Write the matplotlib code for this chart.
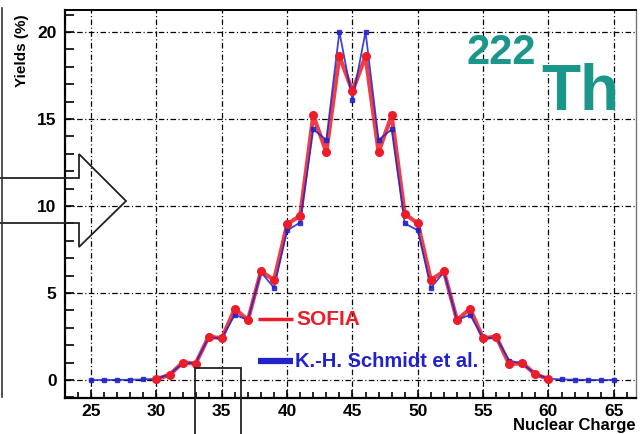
import matplotlib
matplotlib.use("Agg")
import matplotlib.pyplot as plt
from matplotlib.patches import Polygon
from matplotlib.lines import Line2D
import numpy as np

plt.rcParams['font.family'] = ['Liberation Sans', 'DejaVu Sans']
plt.rcParams['font.weight'] = 'bold'
plt.rcParams['lines.scale_dashes'] = False

# Charge yields for 222Th fission
z_sofia = list(range(30, 61))
y_sofia = [0.05, 0.3, 1.0, 0.95, 2.5, 2.4, 4.1, 3.45, 6.25, 5.75,
           8.95, 9.45, 15.2, 13.1, 18.6, 16.6, 18.6, 13.1, 15.2, 9.55,
           9.0, 5.75, 6.25, 3.45, 4.1, 2.4, 2.5, 0.9, 0.98, 0.33, 0.06]

z_schmidt = list(range(25, 66))
y_schmidt = [0.003, 0.005, 0.01, 0.02, 0.04,
             0.08, 0.33, 0.95, 1.0, 2.45, 2.4, 3.75, 3.45, 6.2, 5.3,
             8.6, 9.05, 14.4, 13.8, 20.0, 16.1, 20.0, 13.8, 14.4, 9.0,
             8.6, 5.3, 6.2, 3.45, 3.75, 2.4, 2.45, 1.12, 0.95, 0.35, 0.08,
             0.04, 0.02, 0.01, 0.005, 0.003]

red = '#ec1c28'
blue = '#2222cc'
teal = '#1a968a'

W, H = 641, 434
fig = plt.figure(figsize=(W / 100, H / 100), dpi=100)
ax = fig.add_axes([65 / W, 1 - 398 / H, 571 / W, 388 / H])

ax.plot(z_sofia, y_sofia, color=red, lw=3.0, alpha=0.85, zorder=3)
ax.plot(z_schmidt, y_schmidt, color=blue, lw=1.3, alpha=0.85,
        marker='s', markersize=2.2, zorder=4)
ax.plot(z_sofia, y_sofia, color=red, lw=0, marker='o', markersize=5.5,
        zorder=5)

ax.set_xlim(23.0, 66.7)
ax.set_ylim(-1.03, 21.26)
ax.set_xticks(np.arange(25, 66, 5))
ax.set_xticks(np.arange(24, 67, 1), minor=True)
ax.set_yticks(np.arange(0, 21, 5))
ax.set_yticks(np.arange(-1, 22, 1), minor=True)

ax.grid(True, which='major', color='black', lw=0.9,
        linestyle=(0, (4, 1.8, 0.8, 1.8)))
ax.tick_params(which='both', direction='in', top=False, right=False,
               labelsize=12.5, width=1.2)
ax.tick_params(axis='x', which='major', length=6, pad=4)
ax.tick_params(axis='x', which='minor', length=4)
ax.tick_params(axis='y', which='major', length=6.5, pad=6)
ax.tick_params(axis='y', which='minor', length=6.5)
for lab in ax.get_xticklabels() + ax.get_yticklabels():
    lab.set_fontweight('bold')

for side in ['left', 'bottom']:
    ax.spines[side].set_linewidth(1.6)
ax.spines['top'].set_linewidth(1.4)
ax.spines['right'].set_linewidth(1.0)
ax.spines['right'].set_color('#777777')

# legend drawn by hand inside the frame
ax.plot([37.8, 40.45], [3.5, 3.5], color=red, lw=2.5, solid_capstyle='butt')
ax.text(40.7, 3.5, 'SOFIA', color=red, fontsize=15, fontweight='bold',
        va='center', ha='left')
ax.plot([37.8, 40.45], [1.08, 1.08], color=blue, lw=4.5, solid_capstyle='butt')
ax.text(40.6, 1.08, 'K.-H. Schmidt et al.', color=blue, fontsize=14.5,
        fontweight='bold', va='center', ha='left')

# nucleus label
fig.text(467 / W, 1 - 64 / H, '222', color=teal, fontsize=30,
         fontweight='bold', ha='left', va='baseline')
fig.text(541 / W, 1 - 110 / H, 'Th', color=teal, fontsize=46,
         fontweight='bold', ha='left', va='baseline')

fig.text(22 / W, 1 - 14 / H, 'Yields (%)', rotation=90, fontsize=11,
         fontweight='bold', ha='center', va='top')
fig.text(636 / W, 1 - 433 / H, 'Nuclear Charge', fontsize=12,
         fontweight='bold', ha='right', va='bottom')

# hollow arrow and box outside the axes
def fig_xy(pts):
    return [(x / W, 1 - y / H) for x, y in pts]

arrow = Polygon(fig_xy([(-2, 178), (79, 178), (79, 154), (126, 201),
                        (79, 247), (79, 223), (-2, 223)]),
                closed=True, fill=False, edgecolor='#222222', lw=1.3,
                transform=fig.transFigure, clip_on=False)
fig.add_artist(arrow)

box = Polygon(fig_xy([(195, 440), (195, 368), (241, 368), (241, 440)]),
              closed=False, fill=False, edgecolor='#222222', lw=1.3,
              transform=fig.transFigure, clip_on=False)
fig.add_artist(box)

fig.add_artist(Line2D([1.5 / W, 1.5 / W], [1 - 8 / H, 1 - 397 / H],
                      color='#333333', lw=1.2, transform=fig.transFigure))

fig.savefig('out.png', dpi=100)
